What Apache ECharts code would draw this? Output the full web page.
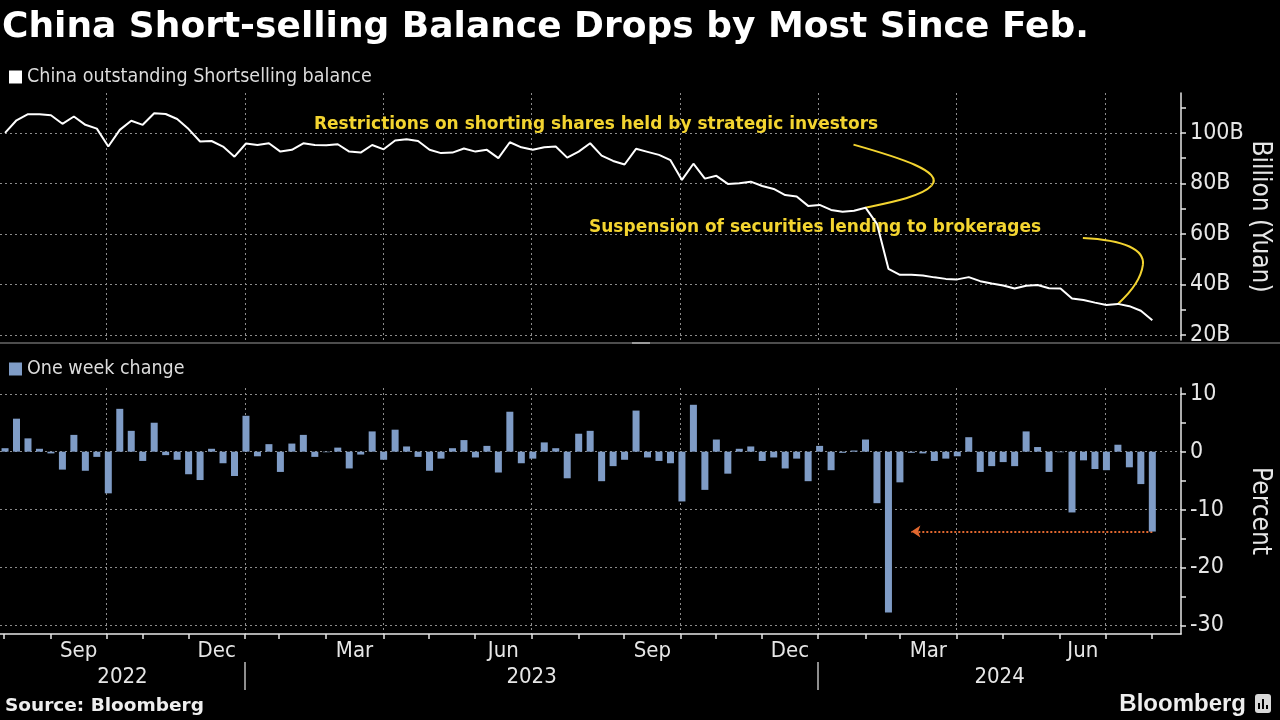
<!DOCTYPE html>
<html>
<head>
<meta charset="utf-8">
<style>
html,body{margin:0;padding:0;background:#000;}
#c{width:1280px;height:720px;}
</style>
<script src="https://cdn.jsdelivr.net/npm/echarts@6/dist/echarts.min.js"></script>
</head>
<body>
<div id="c"></div>
<script>
// ---- data (weekly, index 0 = first week of Aug 2022) ----
const balance = [100,105,107.4,107.4,107,103.6,106.5,103.2,101.7,94.6,
  101.2,104.8,103.2,107.8,107.5,105.5,101.5,96.6,96.8,94.6,
  90.6,95.8,95.2,95.9,92.6,93.3,95.9,95.2,95.1,95.5,
  92.6,92.2,95.2,93.5,97,97.5,96.8,93.3,92.0,92.2,
  93.8,92.6,93.3,90.0,96.3,94.3,93.3,94.3,94.6,90.2,
  92.6,95.9,91.0,88.9,87.5,93.7,92.5,91.3,89.2,81.4,
  87.8,81.9,83.0,79.8,80.1,80.7,79.0,77.8,75.4,74.8,
  71.1,71.5,69.5,68.8,69.2,70.4,64.0,46.2,43.8,43.8,
  43.5,42.8,42.2,42.0,42.9,41.3,40.4,39.6,38.4,39.5,
  39.8,38.5,38.4,34.4,33.8,32.8,31.9,32.3,31.4,29.6,25.8];
const weeklyChange = [0.6,5.7,2.3,0.5,-0.3,-3.1,2.9,-3.3,-0.9,-7.2,
  7.4,3.6,-1.6,5.0,-0.6,-1.4,-3.9,-4.9,0.5,-2.0,
  -4.2,6.2,-0.8,1.3,-3.5,1.4,2.9,-0.9,-0.1,0.7,
  -2.9,-0.5,3.5,-1.4,3.8,0.9,-0.9,-3.3,-1.2,0.6,
  2.0,-1.0,1.0,-3.6,6.9,-2.0,-1.2,1.6,0.6,-4.6,
  3.1,3.6,-5.1,-2.5,-1.4,7.1,-1.0,-1.6,-2.0,-8.6,
  8.1,-6.6,2.1,-3.8,0.5,0.9,-1.6,-1.0,-2.9,-1.2,
  -5.1,1.0,-3.2,-0.2,0.2,2.1,-8.9,-27.8,-5.3,-0.2,
  -0.3,-1.6,-1.2,-0.8,2.5,-3.5,-2.5,-1.8,-2.5,3.5,
  0.8,-3.5,-0.1,-10.5,-1.5,-3.0,-3.2,1.2,-2.7,-5.6,-13.8];
// month starts, in week-index units (trading-time axis)
const monthStartPos = [-0.09,3.98,8.86,11.96,15.97,20.91,23.90,27.95,32.97,36.95,40.96,45.90,
  50.03,53.97,58.89,61.97,65.95,70.88,75.04,78.00,82.95,87.00,91.95,95.93,99.99];
const monthStartNames = ['Aug','Sep','Oct','Nov','Dec','Jan','Feb','Mar','Apr','May','Jun','Jul',
  'Aug','Sep','Oct','Nov','Dec','Jan','Feb','Mar','Apr','May','Jun','Jul','Aug'];
const labeledMonths = ['Sep','Dec','Mar','Jun'];
const quarterMonths = ['Jan','Apr','Jul','Oct'];
const yearNames = ['2022','2023','2024'];
const balanceTicks = [20,30,40,50,60,70,80,90,100,110];
const balanceLabels = [20,40,60,80,100];
const changeTicks = [-30,-25,-20,-15,-10,-5,0,5,10];
const changeLabels = [-30,-20,-10,0,10];
const arrowToIdx = 79;
const ann1 = 'Restrictions on shorting shares held by strategic investors';
const ann2 = 'Suspension of securities lending to brokerages';

// ---- derived axis positions ----
const X_MIN = -0.44, X_MAX = 102.5;
const monthLabelPos = [], monthLabelNames = [];
for (let k = 0; k < monthStartPos.length - 1; k++) {
  if (labeledMonths.includes(monthStartNames[k])) {
    monthLabelPos.push((monthStartPos[k] + monthStartPos[k+1]) / 2);
    monthLabelNames.push(monthStartNames[k]);
  }
}
const quarterPos = monthStartPos.filter((p, k) => quarterMonths.includes(monthStartNames[k]));
const yearStartPos = monthStartPos.filter((p, k) => monthStartNames[k] === 'Jan');
const yBounds = [X_MIN].concat(yearStartPos, [X_MAX]);
const yearLabelPos = yearNames.map((y, k) => (yBounds[k] + yBounds[k+1]) / 2);
function nearestName(v, pos, names) {
  let best = 0;
  pos.forEach((p, k) => { if (Math.abs(p - v) < Math.abs(pos[best] - v)) best = k; });
  return names[best];
}

const FONT = "'Liberation Sans Narrow','DejaVu Sans Condensed',sans-serif";
const BOLD = "'DejaVu Sans',sans-serif";
const AX = '#e6e6e6';
const YELLOW = '#f3d430';
const gridLine = {show: true, lineStyle: {color: '#8c8c8c', type: [2, 3], width: 1}};

const chart = echarts.init(document.getElementById('c'), null, {renderer: 'canvas'});

function xBase(grid) {
  return {type: 'value', gridIndex: grid, min: X_MIN, max: X_MAX, position: 'bottom',
    axisLine: {show: false, onZero: false}, axisTick: {show: false}, axisLabel: {show: false},
    splitLine: {show: false}};
}
function yBase(grid, min, max) {
  return {type: 'value', gridIndex: grid, min: min, max: max, position: 'right',
    axisLine: {show: false, onZero: false}, axisTick: {show: false}, axisLabel: {show: false},
    splitLine: {show: false}};
}

const option = {
  backgroundColor: '#000',
  animation: false,
  title: {
    text: 'China Short-selling Balance Drops by Most Since Feb.',
    left: 2, top: 10, padding: 0,
    textStyle: {color: '#fff', fontFamily: BOLD, fontWeight: 'bold', fontSize: 36}
  },
  legend: [
    {data: ['China outstanding Shortselling balance'], left: 9, top: 67, padding: 0, icon: 'rect',
      itemWidth: 13, itemHeight: 13, itemGap: 5,
      textStyle: {color: '#dcdcdc', fontFamily: FONT, fontSize: 19.5}},
    {data: ['One week change'], left: 9, top: 359, padding: 0, icon: 'rect',
      itemWidth: 13, itemHeight: 13, itemGap: 5,
      textStyle: {color: '#dcdcdc', fontFamily: FONT, fontSize: 19.5}}
  ],
  grid: [
    {left: 0, right: 99, top: 93, height: 247, outerBoundsMode: 'none', containLabel: false},
    {left: 0, right: 99, top: 388, height: 246, outerBoundsMode: 'none', containLabel: false}
  ],
  xAxis: [
    Object.assign(xBase(0), {show: false}),
    Object.assign(xBase(0), {axisTick: {show: false, customValues: quarterPos}, splitLine: gridLine}),
    Object.assign(xBase(1), {
      axisLine: {show: true, onZero: false, lineStyle: {color: AX, width: 1.5}},
      axisTick: {show: true, customValues: monthStartPos, length: 5, lineStyle: {color: AX, width: 1.5}},
      axisLabel: {show: true, customValues: monthLabelPos, margin: 6, color: AX, fontFamily: FONT, fontSize: 22,
        formatter: v => nearestName(v, monthLabelPos, monthLabelNames)}
    }),
    Object.assign(xBase(1), {axisTick: {show: false, customValues: quarterPos}, splitLine: gridLine}),
    Object.assign(xBase(1), {
      offset: 28,
      axisTick: {show: true, customValues: yearStartPos, length: 28, lineStyle: {color: '#bdbdbd', width: 1.5}},
      axisLabel: {show: true, customValues: yearLabelPos, margin: 4, color: AX, fontFamily: FONT, fontSize: 22,
        formatter: v => nearestName(v, yearLabelPos, yearNames)}
    })
  ],
  yAxis: [
    Object.assign(yBase(0, 18, 115.8), {
      axisLine: {show: true, onZero: false, lineStyle: {color: AX, width: 1.5}},
      axisTick: {show: true, customValues: balanceTicks, length: 5, lineStyle: {color: AX, width: 1.5}},
      axisLabel: {show: true, customValues: balanceLabels, margin: 9, color: AX, fontFamily: FONT, fontSize: 23,
        formatter: v => v + 'B'},
      name: 'Billion (Yuan)', nameLocation: 'middle', nameRotate: -90, nameGap: 66, nameMoveOverlap: false,
      nameTextStyle: {color: AX, fontFamily: FONT, fontSize: 26}
    }),
    Object.assign(yBase(0, 18, 115.8), {axisTick: {show: false, customValues: balanceLabels}, splitLine: gridLine}),
    Object.assign(yBase(1, -31.5, 11), {
      axisLine: {show: true, onZero: false, lineStyle: {color: AX, width: 1.5}},
      axisTick: {show: true, customValues: changeTicks, length: 5, lineStyle: {color: AX, width: 1.5}},
      axisLabel: {show: true, customValues: changeLabels, margin: 9, color: AX, fontFamily: FONT, fontSize: 23},
      name: 'Percent', nameLocation: 'middle', nameRotate: -90, nameGap: 66, nameMoveOverlap: false,
      nameTextStyle: {color: AX, fontFamily: FONT, fontSize: 26}
    }),
    Object.assign(yBase(1, -31.5, 11), {axisTick: {show: false, customValues: changeLabels}, splitLine: gridLine})
  ],
  series: [
    {
      name: 'China outstanding Shortselling balance', type: 'line',
      xAxisIndex: 0, yAxisIndex: 0,
      data: balance.map((v, i) => [i, v]),
      symbol: 'none', lineStyle: {color: '#fff', width: 2}, itemStyle: {color: '#fff'}, z: 5
    },
    {
      name: 'One week change', type: 'bar',
      xAxisIndex: 2, yAxisIndex: 2,
      data: weeklyChange.map((v, i) => [i, v]),
      barWidth: 7, itemStyle: {color: '#7f9cc6'}, z: 5,
      markLine: {
        silent: true, symbol: ['none', 'arrow'], symbolSize: 9,
        label: {show: false},
        lineStyle: {color: '#e2682f', type: 'dotted', width: 2},
        data: [[
          {coord: [weeklyChange.length - 1, weeklyChange[weeklyChange.length - 1]]},
          {coord: [arrowToIdx, weeklyChange[weeklyChange.length - 1]]}
        ]]
      }
    }
  ]
};
chart.setOption(option);

// ---- annotations anchored to data points ----
const p1 = chart.convertToPixel({xAxisIndex: 0, yAxisIndex: 0}, [75, balance[75]]);
const p2 = chart.convertToPixel({xAxisIndex: 0, yAxisIndex: 0}, [97, balance[97]]);
function rel(p, pts) { return pts.map((q, k) => (k % 2 === 0 ? p[0] + q : p[1] + q)); }
const c1 = rel(p1, [-12,-63, 34,-50, 79,-36, 66,-22, 56,-11, 24,-5, 0,0]);
const c2 = rel(p2, [-35,-66, 7,-64, 27,-54, 25,-39, 23,-24, 10,-9, 0,0]);
function bezParts(c) {
  return [
    {x1: c[0], y1: c[1], cpx1: c[2], cpy1: c[3], cpx2: c[4], cpy2: c[5], x2: c[6], y2: c[7]},
    {x1: c[6], y1: c[7], cpx1: c[8], cpy1: c[9], cpx2: c[10], cpy2: c[11], x2: c[12], y2: c[13]}
  ];
}
const curveEls = bezParts(c1).concat(bezParts(c2)).map(s => ({
  type: 'bezierCurve', shape: s, style: {stroke: YELLOW, fill: null, lineWidth: 2}, silent: true
}));

chart.setOption({
  graphic: [
    {type: 'rect', shape: {x: 0, y: 342, width: 1280, height: 2}, style: {fill: '#4d4d4d'}, silent: true},
    {type: 'rect', shape: {x: 632, y: 342, width: 18, height: 2}, style: {fill: '#9a9a9a'}, silent: true},
    {type: 'text', x: 314, y: 125, style: {text: ann1, fill: YELLOW, font: "bold 17px 'DejaVu Sans'", textVerticalAlign: 'middle'}},
    {type: 'text', x: 589, y: 228, style: {text: ann2, fill: YELLOW, font: "bold 17px 'DejaVu Sans'", textVerticalAlign: 'middle'}},
    {type: 'text', x: 5, y: 706, style: {text: 'Source: Bloomberg', fill: '#eeeeee', font: "bold 18.5px 'DejaVu Sans'", textVerticalAlign: 'middle'}},
    {type: 'text', x: 1246, y: 704, style: {text: 'Bloomberg', fill: '#eeeeee', font: "bold 24px 'Liberation Sans'", textAlign: 'right', textVerticalAlign: 'middle'}},
    {type: 'rect', shape: {x: 1255, y: 694, width: 16, height: 19, r: 3}, style: {fill: '#d8d8d8'}},
    {type: 'rect', shape: {x: 1258, y: 703, width: 2, height: 6}, style: {fill: '#000'}},
    {type: 'rect', shape: {x: 1262, y: 699, width: 2, height: 10}, style: {fill: '#000'}},
    {type: 'rect', shape: {x: 1266, y: 705, width: 2, height: 4}, style: {fill: '#000'}}
  ].concat(curveEls)
});
</script>
</body>
</html>
